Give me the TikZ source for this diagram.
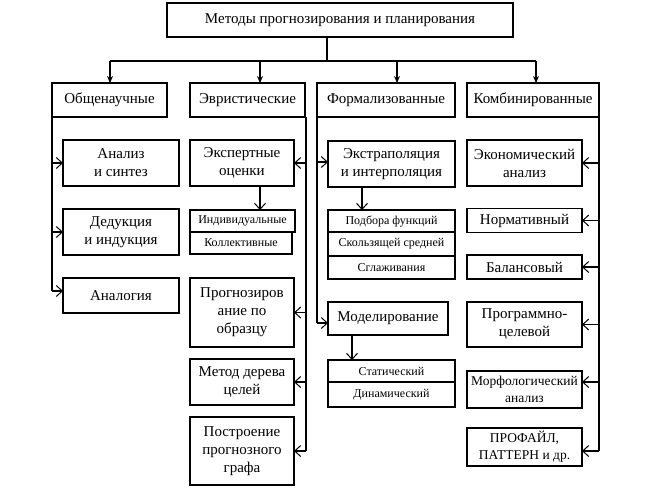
\documentclass[tikz,border=0pt]{standalone}
\usepackage{fontspec}
\setmainfont{Liberation Serif}
\usetikzlibrary{arrows.meta}
\begin{document}
\begin{tikzpicture}[x=1pt,y=-1pt,
  box/.style={draw, line width=1.1pt, inner sep=0pt, outer sep=0pt, align=center,
    font=\fontsize{15}{18}\selectfont},
  sbox/.style={box, font=\fontsize{12}{14}\selectfont},
  mbox/.style={box, font=\fontsize{13.5}{17}\selectfont},
  ln/.style={line width=1.1pt},
  tarr/.style={ln, -{Stealth[length=7pt,width=6pt]}},
  oarr/.style={ln, -{Straight Barb[length=6pt,width=11pt,line width=1pt]}},
]
\useasboundingbox (0,0) rectangle (658,496);

% top
\node[box, minimum width=346pt, minimum height=34pt] (top) at (340,20) {Методы прогнозирования и планирования};

% level 1
\node[box, minimum width=115pt, minimum height=34pt] (ob) at (109.5,100) {Общенаучные};
\node[box, minimum width=115pt, minimum height=34pt] (ev) at (247.5,100) {Эвристические};
\node[box, minimum width=138pt, minimum height=34pt] (fo) at (386,100) {Формализованные};
\node[box, minimum width=132pt, minimum height=34pt] (ko) at (533,100) {Комбинированные};

% bus
\coordinate (hub) at (327,61);
\coordinate (b1) at (110,61);
\coordinate (b2) at (260,61);
\coordinate (b3) at (397,61);
\coordinate (b4) at (536,61);
\draw[ln] (top.south -| hub) -- (hub);
\draw[ln] (b1) -- (b4);
\draw[tarr] (b1) -- (b1 |- ob.north);
\draw[tarr] (b2) -- (b2 |- ev.north);
\draw[tarr] (b3) -- (b3 |- fo.north);
\draw[tarr] (b4) -- (b4 |- ko.north);

% Общенаучные column
\node[box, minimum width=116pt, minimum height=46pt] (o1) at (121,163) {Анализ\\и синтез};
\node[box, minimum width=116pt, minimum height=46pt] (o2) at (121,232) {Дедукция\\и индукция};
\node[box, minimum width=116pt, minimum height=35pt] (o3) at (121,295.5) {Аналогия};
\draw[ln] (ob.south west) -- ([yshift=4.5pt]ob.south west |- o3.west);
\draw[oarr] (ob.south west |- o1.west) -- (o1.west);
\draw[oarr] (ob.south west |- o2.west) -- (o2.west);
\draw[oarr] ([yshift=4.5pt]ob.south west |- o3.west) -- ([yshift=4.5pt]o3.west);

% Эвристические column
\node[box, minimum width=104pt, minimum height=46pt] (e1) at (242,163) {Экспертные\\оценки};
\node[sbox, minimum width=105pt, minimum height=22pt] (e2a) at (242.5,221) {Индивидуальные};
\node[sbox, minimum width=102pt, minimum height=22pt] (e2b) at (241,243) {Коллективные};
\node[box, minimum width=104pt, minimum height=69pt] (e3) at (242,312.5) {Прогнозиров\\ание по\\образцу};
\node[box, minimum width=104pt, minimum height=46pt] (e4) at (242,382) {Метод дерева\\целей};
\node[box, minimum width=104pt, minimum height=68pt] (e5) at (242,451) {Построение\\прогнозного\\графа};
\draw[oarr] ([xshift=18pt]e1.south) -- ([xshift=18pt]e1.south |- e2a.north);
\coordinate (es) at (306,117);
\draw[ln] (es) -- (es |- e5.east);
\draw[oarr] (es |- e1.east) -- (e1.east);
\draw[oarr] (es |- e3.east) -- (e3.east);
\draw[oarr] (es |- e4.east) -- (e4.east);
\draw[oarr] (es |- e5.east) -- (e5.east);

% Формализованные column
\node[box, minimum width=127pt, minimum height=46pt] (f1) at (391.5,164) {Экстраполяция\\и интерполяция};
\node[sbox, minimum width=127pt, minimum height=22pt] (f2a) at (391.5,221) {Подбора функций};
\node[sbox, minimum width=127pt, minimum height=24pt] (f2b) at (391.5,244) {Скользящей средней};
\node[sbox, minimum width=127pt, minimum height=23pt] (f2c) at (391.5,267.5) {Сглаживания};
\node[box, minimum width=120pt, minimum height=33pt] (f3) at (388,318.5) {Моделирование};
\node[sbox, minimum width=127pt, minimum height=22pt] (f4a) at (391.5,371) {Статический};
\node[sbox, minimum width=127pt, minimum height=25pt] (f4b) at (391.5,394.5) {Динамический};
\draw[ln] (fo.south west) -- ([yshift=-4.5pt]fo.south west |- f3.west);
\draw[oarr] ([yshift=2pt]fo.south west |- f1.west) -- ([yshift=2pt]f1.west);
\draw[oarr] ([yshift=-4.5pt]fo.south west |- f3.west) -- ([yshift=-4.5pt]f3.west);
\draw[oarr] ([xshift=-29.5pt]f1.south) -- ([xshift=-29.5pt]f1.south |- f2a.north);
\draw[oarr] ([xshift=-36pt]f3.south) -- ([xshift=-36pt]f3.south |- f4a.north);

% Комбинированные column
\node[box, minimum width=115pt, minimum height=46pt] (k1) at (524.5,163) {Экономический\\анализ};
\node[box, minimum width=115pt, minimum height=24pt] (k2) at (524.5,220.5) {Нормативный};
\node[box, minimum width=115pt, minimum height=24pt] (k3) at (524.5,267) {Балансовый};
\node[box, minimum width=115pt, minimum height=45pt] (k4) at (524.5,324.5) {Программно-\\целевой};
\node[mbox, minimum width=115pt, minimum height=37pt] (k5) at (524.5,389.5) {Морфологический\\анализ};
\node[mbox, minimum width=115pt, minimum height=38pt] (k6) at (524.5,447) {ПРОФАЙЛ,\\ПАТТЕРН и др.};
\coordinate (ks) at (599,117);
\draw[ln] (ks) -- ([yshift=-4pt]ks |- k6.east);
\draw[oarr] (ks |- k1.east) -- (k1.east);
\draw[oarr] (ks |- k2.east) -- (k2.east);
\draw[oarr] (ks |- k3.east) -- (k3.east);
\draw[oarr] (ks |- k4.east) -- (k4.east);
\draw[oarr] ([yshift=7.5pt]ks |- k5.east) -- ([yshift=7.5pt]k5.east);
\draw[oarr] ([yshift=-4pt]ks |- k6.east) -- ([yshift=-4pt]k6.east);
\end{tikzpicture}
\end{document}
